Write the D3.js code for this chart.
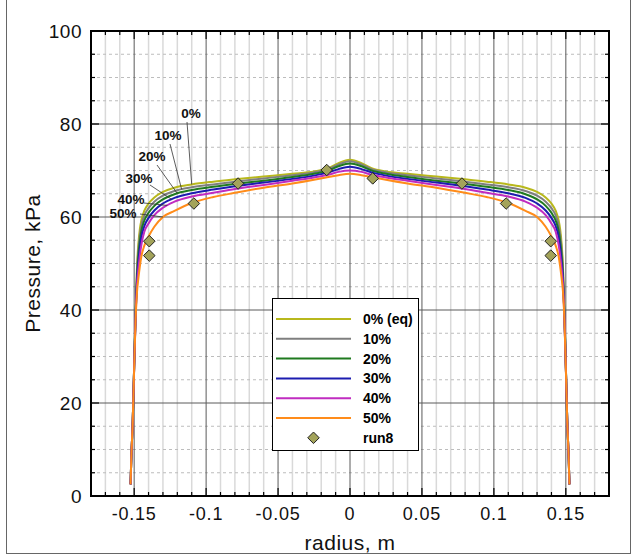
<!DOCTYPE html>
<html><head><meta charset="utf-8">
<script src="https://cdn.jsdelivr.net/npm/d3@7"></script>
<style>
body{margin:0;background:#fff;}
svg{display:block;font-family:"Liberation Sans",Arial,Helvetica,sans-serif;}
</style></head>
<body><svg id="chart" width="632" height="555"></svg>
<script>
// ---------------- data ----------------
const radius = [-0.1525,-0.152,-0.151,-0.150,-0.149,-0.148,-0.147,-0.146,-0.145,-0.143,-0.140,-0.136,-0.130,-0.122,-0.110,-0.095,-0.080,-0.060,-0.040,-0.025,-0.015,-0.008,0,
  0.008,0.015,0.025,0.040,0.060,0.080,0.095,0.110,0.122,0.130,0.136,0.140,0.143,0.145,0.146,0.147,0.148,0.149,0.150,0.151,0.152,0.1525];
const p00 = [2.5,8,16,28,40,49.5,54.5,57.5,59.3,61.3,62.9,64.2,65.4,66.3,67.0,67.6,68.1,68.7,69.3,69.8,70.5,71.6,72.3,
  71.6,70.5,69.8,69.3,68.7,68.1,67.6,67.0,66.3,65.4,64.2,62.9,61.3,59.3,57.5,54.5,49.5,40,28,16,8,2.5];
const p10 = [2.5,8,16,28,39.5,48.5,53.3,56.3,58.2,60.3,61.9,63.3,64.6,65.6,66.4,67.0,67.6,68.3,69.0,69.6,70.3,71.3,72.0,
  71.3,70.3,69.6,69.0,68.3,67.6,67.0,66.4,65.6,64.6,63.3,61.9,60.3,58.2,56.3,53.3,48.5,39.5,28,16,8,2.5];
const p20 = [2.5,8,16,28,39,47.5,52,55,57,59.2,60.9,62.4,63.8,64.9,65.8,66.5,67.1,67.8,68.6,69.3,70.0,70.9,71.5,
  70.9,70.0,69.3,68.6,67.8,67.1,66.5,65.8,64.9,63.8,62.4,60.9,59.2,57,55,52,47.5,39,28,16,8,2.5];
const p30 = [2.5,8,16,27.8,38.7,46.5,50.5,53.5,55.7,58.0,59.8,61.4,62.9,64.1,65.1,65.9,66.6,67.4,68.2,68.9,69.6,70.3,70.8,
  70.3,69.6,68.9,68.2,67.4,66.6,65.9,65.1,64.1,62.9,61.4,59.8,58.0,55.7,53.5,50.5,46.5,38.7,27.8,16,8,2.5];
const p40 = [2.5,8,16,27.6,38.3,45.3,49.0,51.8,54.0,56.8,58.6,60.4,62.0,63.3,64.4,65.2,66.0,66.9,67.8,68.5,69.1,69.7,70.0,
  69.7,69.1,68.5,67.8,66.9,66.0,65.2,64.4,63.3,62.0,60.4,58.6,56.8,54.0,51.8,49.0,45.3,38.3,27.6,16,8,2.5];
const p50 = [2.5,8,16,27.5,38,44,47,49.5,51.5,53.8,55.8,57.9,60.0,61.3,63.0,64.3,65.2,66.3,67.2,68.0,68.6,69.0,69.3,
  69.0,68.6,68.0,67.2,66.3,65.2,64.3,63.0,61.3,60.0,57.9,55.8,53.8,51.5,49.5,47,44,38,27.5,16,8,2.5];
const seriesNames = ["0% (eq)","10%","20%","30%","40%","50%"];
const seriesColors = ["#b8b81c","#7f7f7f","#1f7a1f","#1c1cb0","#c02cc0","#ff8c1a"];

const run8R = [-0.1395,-0.1395,-0.1085,-0.0778,-0.0162,0.0158,0.0778,0.1085,0.1395,0.1395];
const run8P = [54.8,51.7,62.9,67.2,70.1,68.3,67.2,62.9,54.8,51.7];

const annLabels = ["0%","10%","20%","30%","40%","50%"];
const annR = [-0.110,-0.117,-0.120,-0.124,-0.127,-0.130];

const xTicks = [-0.15,-0.1,-0.05,0,0.05,0.1,0.15];
const xTickLabels = ["-0.15","-0.1","-0.05","0","0.05","0.1","0.15"];
const yTicks = [0,20,40,60,80,100];
const yTickLabels = ["0","20","40","60","80","100"];

// ---------------- layout ----------------
const L = 91, R = 609, T = 31, B = 496;
const svg = d3.select("#chart");
const x = d3.scaleLinear().domain([-0.18,0.18]).range([L,R]);
const y = d3.scaleLinear().domain([0,100]).range([B,T]);

// outer frame
svg.append("rect").attr("x",6.5).attr("y",-1).attr("width",624).attr("height",554.5)
  .attr("fill","none").attr("stroke","#666").attr("stroke-width",1);

const grid = svg.append("g");
const xMinor = d3.range(-18,19).map(i=>i/100).filter(v=>Math.abs(Math.round(v*100)%5)!==0);
grid.selectAll(".xm").data(xMinor).join("line")
  .attr("x1",d=>x(d)).attr("x2",d=>x(d)).attr("y1",T).attr("y2",B)
  .attr("stroke","#d9d9d9").attr("stroke-width",1.5);
const yMinor = d3.range(0,101,5).filter(v=>v%20!==0);
grid.selectAll(".ym").data(yMinor).join("line")
  .attr("x1",L).attr("x2",R).attr("y1",d=>y(d)).attr("y2",d=>y(d))
  .attr("stroke","#bdbdbd").attr("stroke-width",1).attr("stroke-dasharray","3,3");
const xMajor = d3.range(-15,16,5).map(i=>i/100);
grid.selectAll(".xM").data(xMajor).join("line")
  .attr("x1",d=>x(d)).attr("x2",d=>x(d)).attr("y1",T).attr("y2",B)
  .attr("stroke","#5a5a5a").attr("stroke-width",1);
grid.selectAll(".yM").data(yTicks.filter(v=>v>0&&v<100)).join("line")
  .attr("x1",L).attr("x2",R).attr("y1",d=>y(d)).attr("y2",d=>y(d))
  .attr("stroke","#5a5a5a").attr("stroke-width",1);

// ticks (inward, all sides)
const tk = svg.append("g").attr("stroke","#000").attr("stroke-width",1.2);
d3.range(-18,19).map(i=>i/100).forEach(v=>{
  const major = Math.abs(Math.round(v*100))%5===0;
  const len = major?8:4;
  tk.append("line").attr("x1",x(v)).attr("x2",x(v)).attr("y1",B).attr("y2",B-len);
  tk.append("line").attr("x1",x(v)).attr("x2",x(v)).attr("y1",T).attr("y2",T+len);
});
d3.range(0,101,5).forEach(v=>{
  const len = v%20===0?8:4;
  tk.append("line").attr("y1",y(v)).attr("y2",y(v)).attr("x1",L).attr("x2",L+len);
  tk.append("line").attr("y1",y(v)).attr("y2",y(v)).attr("x1",R).attr("x2",R-len);
});

// series lines
const allSeries = [p00,p10,p20,p30,p40,p50];
const line = d3.line().x((d,i)=>x(radius[i])).y(d=>y(d)).curve(d3.curveMonotoneX);
const lines = svg.append("g");
allSeries.forEach((s,k)=>{
  lines.append("path").attr("d",line(s)).attr("fill","none")
    .attr("stroke",seriesColors[k]).attr("stroke-width",2);
});

// run8 diamonds
const diamond = d3.symbol().type(d3.symbolDiamond2).size(85);
svg.append("g").selectAll("path").data(run8R).join("path")
  .attr("d",diamond).attr("transform",(d,i)=>`translate(${x(d)},${y(run8P[i])})`)
  .attr("fill","#a3a35a").attr("stroke","#222").attr("stroke-width",1);

// annotation leaders
function valueAt(s, r){
  const i = d3.bisectLeft(radius, r);
  const t = (r-radius[i-1])/(radius[i]-radius[i-1]);
  return s[i-1] + t*(s[i]-s[i-1]);
}
const annText = [[191,118],[168,140],[152,161],[139,183],[131,204],[123,218]];
const annStart = [[187,122],[170,144],[157,165],[150,185],[144,203],[140,214]];
const ann = svg.append("g");
annLabels.forEach((lab,k)=>{
  ann.append("line").attr("x1",annStart[k][0]).attr("y1",annStart[k][1])
    .attr("x2",x(annR[k])).attr("y2",y(valueAt(allSeries[k],annR[k])))
    .attr("stroke","#333").attr("stroke-width",0.8);
  ann.append("text").attr("x",annText[k][0]).attr("y",annText[k][1])
    .attr("text-anchor","middle").attr("font-size",13.5).attr("font-weight","bold")
    .attr("fill","#111").text(lab);
});

// frame
svg.append("rect").attr("x",L).attr("y",T).attr("width",R-L).attr("height",B-T)
  .attr("fill","none").attr("stroke","#000").attr("stroke-width",2);

// tick labels
svg.append("g").selectAll("text").data(xTicks).join("text")
  .attr("x",d=>x(d)).attr("y",B+24).attr("text-anchor","middle")
  .attr("font-size",18).attr("letter-spacing",0.8).attr("fill","#111").text((d,i)=>xTickLabels[i]);
svg.append("g").selectAll("text").data(yTicks).join("text")
  .attr("x",L-9).attr("y",d=>y(d)+7).attr("text-anchor","end")
  .attr("font-size",19).attr("letter-spacing",0.5).attr("fill","#111").text((d,i)=>yTickLabels[i]);

// axis titles
svg.append("text").attr("x",(L+R)/2).attr("y",550).attr("text-anchor","middle")
  .attr("font-size",21).attr("letter-spacing",0.5).attr("fill","#111").text("radius, m");
svg.append("text").attr("transform",`translate(40,${(T+B)/2}) rotate(-90)`)
  .attr("text-anchor","middle").attr("font-size",21).attr("letter-spacing",0.5).attr("fill","#111").text("Pressure, kPa");

// legend
const lg = svg.append("g");
lg.append("rect").attr("x",272.5).attr("y",298.5).attr("width",146).attr("height",152)
  .attr("fill","#fff").attr("stroke","#000").attr("stroke-width",1);
const rowY = d3.range(7).map(i=>319+i*19.8);
seriesNames.forEach((n,k)=>{
  lg.append("line").attr("x1",276).attr("x2",351).attr("y1",rowY[k]).attr("y2",rowY[k])
    .attr("stroke",seriesColors[k]).attr("stroke-width",2);
  lg.append("text").attr("x",363).attr("y",rowY[k]+5).attr("font-size",14).attr("font-weight","bold")
    .attr("fill","#000").text(n);
});
lg.append("path").attr("d",diamond).attr("transform",`translate(313.5,${rowY[6]})`)
  .attr("fill","#a3a35a").attr("stroke","#222").attr("stroke-width",1);
lg.append("text").attr("x",363).attr("y",rowY[6]+5).attr("font-size",14).attr("font-weight","bold")
  .attr("fill","#000").text("run8");
</script></body></html>
